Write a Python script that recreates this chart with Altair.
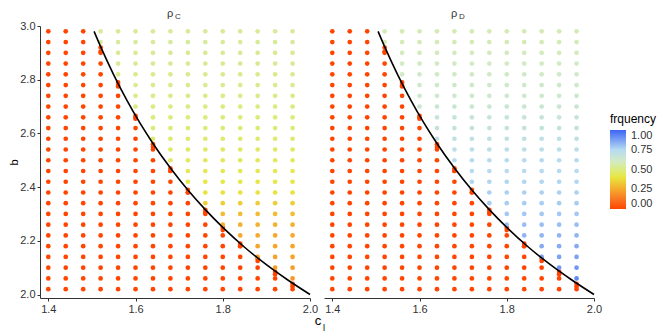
import altair as alt
import pandas as pd

# ---- data ----
x_cols = [1.40, 1.44, 1.48, 1.52, 1.56, 1.60, 1.64, 1.68, 1.72, 1.76, 1.80, 1.84, 1.88, 1.92, 1.96]
b_rows = [2.02, 2.06, 2.10, 2.14, 2.18, 2.22, 2.26, 2.30, 2.34, 2.38, 2.42, 2.46, 2.50,
          2.54, 2.58, 2.62, 2.66, 2.70, 2.74, 2.78, 2.82, 2.86, 2.90, 2.94, 2.98]
rho_c_rows = [0.20, 0.21, 0.22, 0.23, 0.24, 0.25, 0.27, 0.30, 0.34, 0.39, 0.41, 0.43, 0.45,
              0.46, 0.47, 0.48, 0.49, 0.50, 0.51, 0.52, 0.52, 0.53, 0.53, 0.54, 0.54]
rho_d_rows = [0.95, 0.92, 0.89, 0.87, 0.85, 0.83, 0.81, 0.79, 0.78, 0.77, 0.76, 0.75, 0.74,
              0.72, 0.70, 0.68, 0.66, 0.65, 0.63, 0.62, 0.61, 0.60, 0.59, 0.58, 0.58]
# lowest coloured b in each column (9 = none)
first_colored_b = [9, 9, 9, 2.94, 2.82, 2.70, 2.58, 2.50, 2.42, 2.34, 2.26, 2.22, 2.14, 2.10, 2.06]
# extra orange points sitting on the boundary
edge_cols = [1.52, 1.56, 1.60, 1.64, 1.68, 1.72, 1.76, 1.80, 1.84, 1.88, 1.92, 1.96]
edge_b_hi = [2.92, 2.79, 2.665, 2.56, 2.47, 2.39, 2.315, 2.25, 2.19, 2.135, 2.085, 2.04]
edge_b_lo = [2.905, 2.775, 2.655, 2.55, 2.46, 2.38, 2.305, 2.24, 2.18, 2.125, 2.075, 2.03]
# boundary curve
curve_c = [1.505, 1.52, 1.55, 1.58, 1.61, 1.64, 1.68, 1.72, 1.76, 1.80, 1.85, 1.90, 1.95, 2.00]
curve_b = [2.980, 2.923, 2.818, 2.724, 2.639, 2.5625, 2.471, 2.389, 2.316, 2.250, 2.176, 2.111, 2.053, 2.000]
# colour bar stops
color_stops = [0, 0.12, 0.25, 0.4, 0.5, 0.6, 0.75, 1.0]
color_hex = ["#ff4500", "#f87522", "#f6a92c", "#e8e640", "#dbeb80", "#d2ebc4", "#b6dbf2", "#3d64f5"]


def make_points(row_vals):
    recs = []
    for c, b_lo in zip(edge_cols, edge_b_lo):
        recs.append({"c": c, "b": b_lo, "f": 0.0})
    for c, b_hi in zip(edge_cols, edge_b_hi):
        recs.append({"c": c, "b": b_hi, "f": 0.0})
    for ci, c in enumerate(x_cols):
        for bi, b in enumerate(b_rows):
            val = row_vals[bi] if b >= first_colored_b[ci] - 1e-9 else 0.0
            recs.append({"c": c, "b": b, "f": val})
    return pd.DataFrame(recs)


df_c = make_points(rho_c_rows)
df_d = make_points(rho_d_rows)
curve_df = pd.DataFrame({"c": curve_c, "b": curve_b})

W, H = 270, 272
FONT = "Liberation Sans"

xscale = alt.Scale(domain=[1.381, 2.0], nice=False, zero=False)
yscale = alt.Scale(domain=[1.987, 3.0], nice=False, zero=False)
cscale = alt.Scale(domain=color_stops, range=color_hex, interpolate="rgb")
legend = alt.Legend(title="frquency", orient="none", legendX=570, legendY=88,
                    gradientLength=79, gradientThickness=16,
                    values=[0, 0.25, 0.5, 0.75, 1.0], format=".2f",
                    titleFontWeight="normal", titleFontSize=12, titleColor="#000",
                    titleFont=FONT, labelFont=FONT, labelFontSize=11, labelColor="#333",
                    labelOffset=5, titlePadding=4, gradientStrokeWidth=0)

xaxis = alt.Axis(title=None, values=[1.4, 1.6, 1.8, 2.0], format=".1f")
yaxis = alt.Axis(title="b", values=[2.0, 2.2, 2.4, 2.6, 2.8, 3.0], format=".1f",
                 titleFontWeight="normal", titleFontSize=11, titleColor="#000",
                 titlePadding=0, titleFont=FONT)


def txt(s, size, x, y, color):
    return alt.Chart(pd.DataFrame({"t": [s]})).mark_text(
        fontSize=size, font=FONT, fill=color, baseline="alphabetic"
    ).encode(text="t:N", x=alt.value(x), y=alt.value(y))


def panel(df, sub, show_y, with_xlabel):
    pts = alt.Chart(df).mark_circle(size=22, opacity=1).encode(
        x=alt.X("c:Q", scale=xscale, axis=xaxis),
        y=alt.Y("b:Q", scale=yscale, axis=yaxis if show_y else None),
        color=alt.Color("f:Q", scale=cscale, legend=legend),
    )
    line = alt.Chart(curve_df).mark_line(color="black", strokeWidth=1.6,
                                         interpolate="monotone").encode(
        x=alt.X("c:Q", scale=xscale),
        y=alt.Y("b:Q", scale=yscale),
    )
    layers = [pts, line,
              txt("ρ", 11, W / 2 - 5, -9, "#333333"),
              txt(sub, 8, W / 2 + 3, -7, "#333333")]
    if with_xlabel:
        layers += [txt("c", 13, W + 8, H + 27, "#000000"),
                   txt("l", 9, W + 14, H + 33, "#000000")]
    return alt.layer(*layers).properties(width=W, height=H)


left = panel(df_c, "C", True, True)
right = panel(df_d, "D", False, False)

chart = alt.hconcat(left, right, spacing=14, bounds="flush").resolve_scale(
    color="shared"
).properties(
    padding={"left": 0, "top": 0, "right": 0, "bottom": 0}
).configure_view(stroke=None).configure_axis(
    grid=False, domainColor="#333", tickColor="#333", labelColor="#333",
    labelFontSize=11, tickSize=3, labelFont=FONT, labelFlush=False,
    labelPadding=2
)

chart.save("out.html", embed_options={"renderer": "svg", "actions": False})
